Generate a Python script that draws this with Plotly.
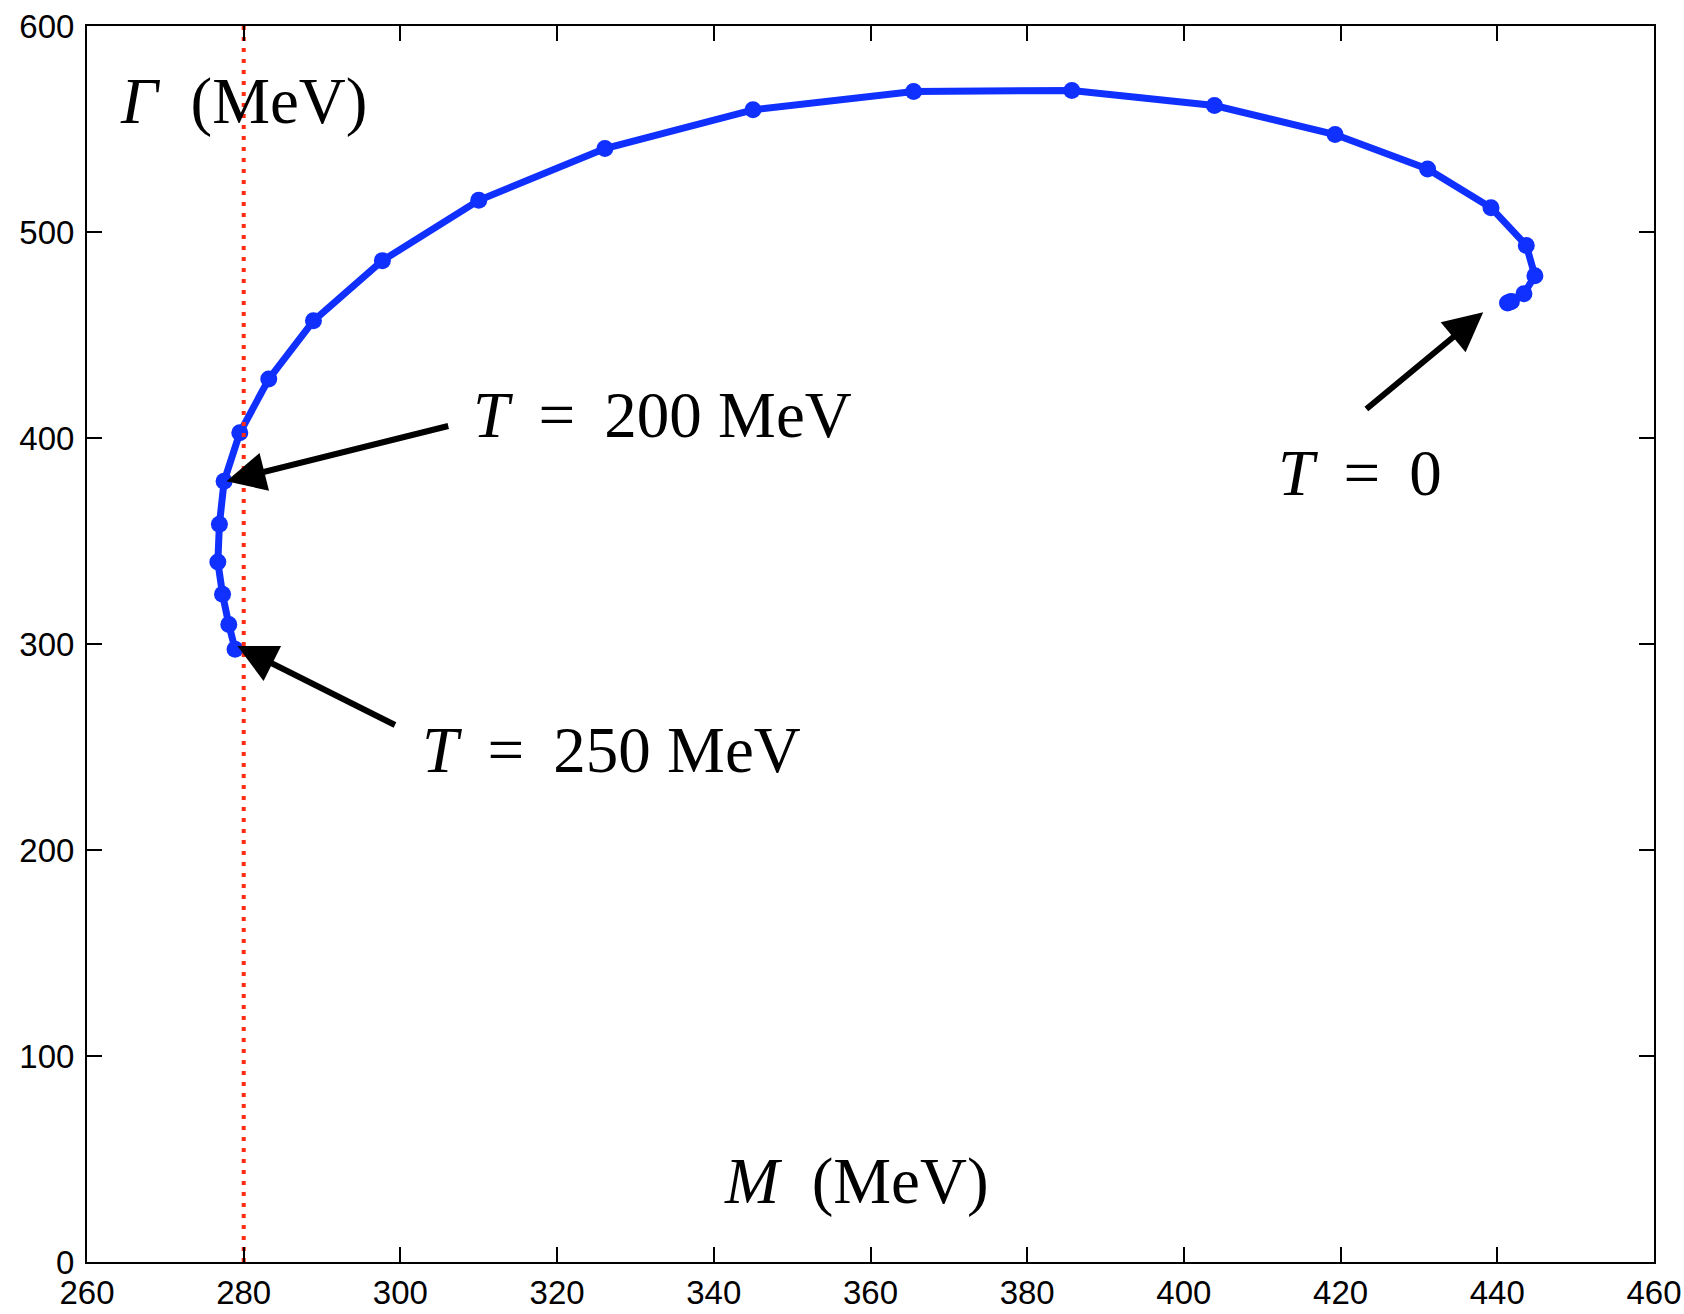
import plotly.graph_objects as go

# Data (M in MeV, Gamma in MeV), from T = 0 to T = 250 MeV
M_vals = [441.3, 441.6, 441.8, 443.4, 444.8, 443.7, 439.2, 431.1, 419.3, 403.9, 385.7, 365.5,
          345.0, 326.1, 310.0, 297.7, 288.9, 283.2, 279.5, 277.5, 276.9, 276.7, 277.3, 278.1, 278.9]
Gamma_vals = [465.5, 466.0, 466.3, 470.0, 478.8, 493.5, 511.8, 530.6, 547.3, 561.4, 568.7, 568.2,
              559.3, 540.5, 515.4, 486.1, 456.9, 428.6, 402.5, 379.0, 358.1, 339.8, 324.1, 309.5, 297.4]

ref_M = [280, 280]
ref_Gamma = [0, 600]

x_ticks = [260, 280, 300, 320, 340, 360, 380, 400, 420, 440, 460]
y_ticks = [0, 100, 200, 300, 400, 500, 600]

serif = "Liberation Serif, Times New Roman, serif"
big = 65

fig = go.Figure()
fig.add_trace(go.Scatter(
    x=M_vals, y=Gamma_vals, mode="lines+markers",
    line=dict(color="#1030ff", width=7),
    marker=dict(color="#1030ff", size=17),
    showlegend=False, hoverinfo="skip"))
fig.add_trace(go.Scatter(
    x=ref_M, y=ref_Gamma, mode="lines",
    line=dict(color="#ff2a10", width=4, dash="4px,7px"),
    showlegend=False, hoverinfo="skip"))

arrows = [
    # head (x, y), tail (ax, ay)
    (277.8, 379.0, 306.3, 406.0),
    (279.2, 299.0, 299.5, 260.3),
    (438.2, 461.0, 423.1, 413.5),
]
for hx, hy, tx, ty in arrows:
    fig.add_annotation(x=hx, y=hy, ax=tx, ay=ty, xref="x", yref="y", axref="x", ayref="y",
                       text="", showarrow=True, arrowhead=2, arrowsize=1.3, arrowwidth=6,
                       arrowcolor="black", standoff=0)

sp = "\u00a0\u2009"
labels = [
    (f"<i>T</i>{sp}={sp}200\u00a0MeV", 309.0, 411.0),
    (f"<i>T</i>{sp}={sp}250\u00a0MeV", 302.5, 248.5),
    (f"<i>T</i>{sp}={sp}0", 411.8, 383.0),
    ("<i>Γ</i>\u00a0\u00a0(MeV)", 264.0, 563.5),
    ("<i>M</i>\u00a0\u00a0(MeV)", 341.0, 39.5),
]
for txt, x, y in labels:
    fig.add_annotation(x=x, y=y, xref="x", yref="y", text=txt, showarrow=False,
                       xanchor="left", yanchor="middle",
                       font=dict(family=serif, size=big, color="black"))

axis_common = dict(showline=True, linecolor="black", linewidth=2, mirror="ticks",
                   ticks="inside", ticklen=15, tickwidth=1.5, tickcolor="black",
                   showgrid=False, zeroline=False, automargin=False,
                   tickfont=dict(family="Liberation Sans, Arial, sans-serif", size=33, color="black"))

fig.update_xaxes(range=[260, 460], tickvals=x_ticks, ticktext=[str(v) for v in x_ticks], **axis_common)
fig.update_yaxes(range=[0, 600], tickvals=y_ticks, ticktext=[str(v) for v in y_ticks],
                 ticklabelstandoff=4, **axis_common)

fig.update_layout(
    width=1684, height=1314,
    margin=dict(l=87, r=30, t=26, b=52),
    paper_bgcolor="white", plot_bgcolor="white",
)

fig.write_html("out.html", config={"displayModeBar": False},
               post_script="document.body.style.margin='0';document.body.style.overflow='hidden';")
